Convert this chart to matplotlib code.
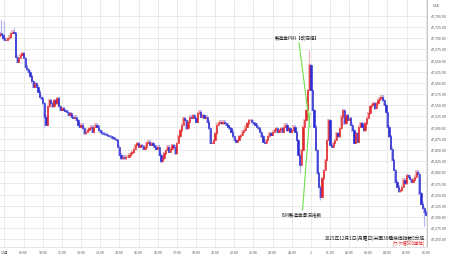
"""米国30種株価指数 5分足チャート"""

import matplotlib.dates as mdates
import matplotlib.pyplot as plt
import pandas as pd

plt.rcParams["font.family"] = ["Noto Sans CJK JP", "DejaVu Sans"]

# 5分足の終値 (2025-12-01 07:45 〜)
closes = [
    47711, 47707, 47699, 47696, 47696, 47699, 47703, 47711, 47714, 47711,
    47658, 47647, 47655, 47662, 47666, 47655, 47636, 47630, 47625, 47614,
    47603, 47591, 47599, 47591, 47580, 47569, 47565, 47554, 47524, 47506,
    47547, 47561, 47554, 47547, 47561, 47554, 47565, 47547, 47539, 47543,
    47539, 47537, 47535, 47528, 47532, 47524, 47521, 47524, 47517, 47506,
    47502, 47506, 47498, 47487, 47491, 47494, 47498, 47502, 47491, 47502,
    47506, 47502, 47494, 47491, 47487, 47486, 47485, 47483, 47481, 47480,
    47478, 47476, 47474, 47472, 47457, 47439, 47431, 47435, 47431, 47435,
    47435, 47439, 47442, 47446, 47453, 47461, 47465, 47457, 47461, 47458,
    47453, 47457, 47465, 47468, 47461, 47465, 47461, 47457, 47453, 47457,
    47439, 47424, 47431, 47442, 47450, 47457, 47446, 47453, 47461, 47457,
    47442, 47465, 47480, 47494, 47506, 47521, 47517, 47498, 47513, 47524,
    47521, 47528, 47521, 47513, 47532, 47535, 47524, 47528, 47521, 47524,
    47513, 47498, 47465, 47465, 47472, 47487, 47506, 47510, 47513, 47509,
    47513, 47509, 47506, 47502, 47498, 47491, 47480, 47472, 47468, 47472,
    47480, 47483, 47491, 47494, 47502, 47509, 47517, 47517, 47513, 47509,
    47506, 47502, 47498, 47491, 47480, 47468, 47465, 47472, 47480, 47487,
    47483, 47491, 47494, 47498, 47491, 47494, 47498, 47491, 47502, 47506,
    47494, 47498, 47491, 47494, 47502, 47490, 47472, 47439, 47416, 47450,
    47502, 47517, 47539, 47584, 47640, 47584, 47539, 47502, 47450, 47398,
    47368, 47345, 47386, 47405, 47427, 47472, 47517, 47461, 47457, 47465,
    47472, 47487, 47480, 47498, 47524, 47539, 47509, 47528, 47517, 47521,
    47506, 47494, 47465, 47487, 47468, 47502, 47509, 47502, 47494, 47509,
    47521, 47532, 47547, 47550, 47554, 47543, 47554, 47561, 47565, 47569,
    47561, 47550, 47535, 47502, 47480, 47453, 47427, 47405, 47379, 47368,
    47357, 47360, 47368, 47383, 47375, 47394, 47390, 47385, 47379, 47383,
    47390, 47401, 47397, 47353, 47330, 47319, 47312, 47304,
]
first_open = 47705

# 目立つヒゲ (時刻, 価格)
wick_times = ["07:50", "08:00", "08:30", "10:05", "23:25", "23:55", "00:30",
              "05:55"]
wick_prices = [47740, 47738, 47722, 47500, 47398, 47673, 47338, 47280]

hour_labels = ["12月", "09:00", "10:00", "11:00", "12:00", "13:00", "14:00",
               "15:00", "16:00", "17:00", "18:00", "19:00", "20:00", "21:00",
               "22:00", "23:00", "1", "01:00", "02:00", "03:00", "04:00",
               "05:00", "06:00"]

title_text = "2025年12月1日(月曜日)米国30種株価指数5分足"
unit_text = "[ワク幅500単位]"
event_top = "製造業PMI【改定値】"
event_bottom = "ISM製造業景況指数"

UP = "#e3262c"
DOWN = "#2c2cd2"
UP_WICK = "#f2b4b6"
DOWN_WICK = "#b4b6f0"
GREEN = "#6fe04c"
GRID = "#e6e6e6"

times = pd.date_range("2025-12-01 07:45", periods=len(closes), freq="5min")
x = mdates.date2num(times)
opens = [first_open] + closes[:-1]
colors = [UP if c >= o else DOWN for o, c in zip(opens, closes)]
wick_colors = [UP_WICK if c >= o else DOWN_WICK for o, c in zip(opens, closes)]
width = 5 / 1440 * 0.8

fig = plt.figure(figsize=(4.5, 2.58), dpi=100, facecolor="white")
ax = fig.add_axes([0.0, 0.043, 0.949, 0.957])

# ヒゲ (全足に薄い影 + 目立つヒゲ)
ax.vlines(x, [min(o, c) - 3 for o, c in zip(opens, closes)],
          [max(o, c) + 3 for o, c in zip(opens, closes)],
          color=wick_colors, lw=1.4, zorder=2)
wick_ts = []
for t in wick_times:
    day = "2025-12-02" if t < "07:00" else "2025-12-01"
    wick_ts.append(pd.Timestamp(f"{day} {t}"))
for t, p in zip(wick_ts, wick_prices):
    i = times.get_indexer([t], method="nearest")[0]
    ax.vlines(x[i], min(opens[i], closes[i], p), max(opens[i], closes[i], p),
              color=wick_colors[i], lw=0.9, zorder=2)

# 実体
bodies = [c - o for o, c in zip(opens, closes)]
ax.bar(x, bodies, bottom=opens, width=width, color=colors,
       edgecolor=colors, linewidth=0.4, zorder=3)

# イベント注記
t_top_lbl = mdates.date2num(pd.Timestamp("2025-12-01 23:19"))
t_top_start = mdates.date2num(pd.Timestamp("2025-12-01 23:23"))
t_bot_lbl = mdates.date2num(pd.Timestamp("2025-12-01 23:32"))
t_bot_start = mdates.date2num(pd.Timestamp("2025-12-01 23:34"))
t_event = mdates.date2num(pd.Timestamp("2025-12-01 23:57"))
ax.plot([t_top_start, t_event], [47689, 47501], color=GREEN, lw=0.8, zorder=4)
ax.plot([t_bot_start, t_event], [47316, 47532], color=GREEN, lw=0.8, zorder=4)
ax.text(t_top_lbl, 47700, event_top, fontsize=3.3, ha="center", va="center",
        color="#222222", zorder=5)
ax.text(t_bot_lbl, 47304, event_bottom, fontsize=3.3, ha="center",
        va="center", color="#222222", zorder=5)

# 軸
ax.set_xlim(mdates.date2num(pd.Timestamp("2025-12-01 07:46")),
            mdates.date2num(pd.Timestamp("2025-12-02 06:04")))
ax.set_ylim(47233, 47785)

tick_times = pd.date_range("2025-12-01 08:00", "2025-12-02 06:00", freq="1h")
ax.set_xticks(mdates.date2num(tick_times))
ax.set_xticklabels(hour_labels)
y_ticks = list(range(47250, 47751, 25))
ax.set_yticks(y_ticks)
ax.set_yticklabels([f"{v:,.2f}" for v in y_ticks])
ax.yaxis.tick_right()
ax.tick_params(axis="both", length=0, labelsize=2.6, colors="#555555")
ax.tick_params(axis="x", pad=3)
ax.tick_params(axis="y", pad=3)
ax.grid(True, color=GRID, lw=0.6, zorder=0)
ax.set_axisbelow(True)

for side in ("left", "top"):
    ax.spines[side].set_visible(False)
ax.spines["right"].set_color("#bbbbbb")
ax.spines["bottom"].set_color("#dddddd")
ax.spines["right"].set_linewidth(0.6)
ax.spines["bottom"].set_linewidth(0.6)

fig.text(433 / 450, 1 - 6 / 258, "USD", fontsize=2.6, color="#555555",
         ha="left", va="center")
fig.text(425 / 450, 1 - 238 / 258, title_text, fontsize=3.4, color="#222222",
         ha="right", va="center")
fig.text(425 / 450, 1 - 243.5 / 258, unit_text, fontsize=3.2, color="#e02020",
         ha="right", va="center")

fig.savefig("out.png", dpi=100, facecolor="white")
plt.close(fig)
